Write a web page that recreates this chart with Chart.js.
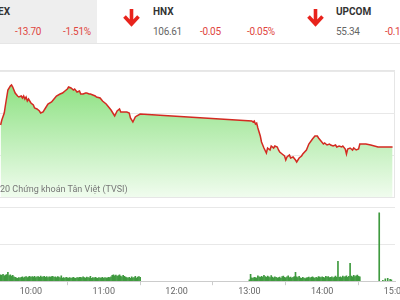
<!DOCTYPE html>
<html>
<head>
<meta charset="utf-8">
<script src="https://cdn.jsdelivr.net/npm/chart.js@4.4.0/dist/chart.umd.min.js"></script>
<style>
  body { margin: 0; width: 400px; height: 300px; overflow: hidden; background: #fff; position: relative; font-family: Roboto, sans-serif; }
  .abs { position: absolute; white-space: nowrap; }
  #hdrbox { left: 0; top: 0; width: 97px; height: 43px; background: #eeeeee; }
  #hdrline { left: 0; top: 43px; width: 400px; height: 1px; background: #e6e6e6; }
  .nm { font-size: 10px; font-weight: bold; color: #333; top: 6px; line-height: 12px; }
  .num { font-size: 10px; color: #666; top: 26px; line-height: 12px; letter-spacing: -0.3px; }
  .red { color: #e0463e; }
  .arrow { top: 9px; }
  #panel { left: -2px; top: 70px; width: 395px; height: 126px; border: 1px solid #e6e6e6; }
  #main { left: 0; top: 71px; }
  #vol { left: 0; top: 200px; }
  #copy { left: 0; top: 184px; font-size: 9px; line-height: 10px; color: #777; }
</style>
</head>
<body>
<div class="abs" id="hdrbox"></div>
<div class="abs" id="hdrline"></div>

<span class="abs nm" style="right:390px">VNINDEX</span>
<span class="abs num red" style="left:15px">-13.70</span>
<span class="abs num red" style="left:63px">-1.51%</span>

<svg class="abs arrow" style="left:122px" width="19" height="18" viewBox="0 0 19 18">
  <path d="M9.5 0 V15 M2.5 7.5 L9.5 15 L16.5 7.5" fill="none" stroke="#e8231c" stroke-width="3.6"/>
</svg>
<span class="abs nm" style="left:153px">HNX</span>
<span class="abs num" style="left:153px">106.61</span>
<span class="abs num red" style="left:200px">-0.05</span>
<span class="abs num red" style="left:247px">-0.05%</span>

<svg class="abs arrow" style="left:306px" width="19" height="18" viewBox="0 0 19 18">
  <path d="M9.5 0 V15 M2.5 7.5 L9.5 15 L16.5 7.5" fill="none" stroke="#e8231c" stroke-width="3.6"/>
</svg>
<span class="abs nm" style="left:336px">UPCOM</span>
<span class="abs num" style="left:336px">55.34</span>
<span class="abs num red" style="left:385px">-0.19</span>

<div class="abs" id="panel"></div>
<div class="abs" style="left:0;top:71px;width:395px;height:126px"><canvas id="main" width="395" height="126"></canvas></div>
<span class="abs" id="copy">20 Chứng khoán Tân Việt (TVSI)</span>
<div class="abs" style="left:0;top:200px;width:410px;height:98px"><canvas id="vol" width="410" height="98"></canvas></div>

<script>
// VN-Index intraday
const lineTimes = [
  '09:35','09:36','09:38','09:39','09:41','09:43','09:44','09:45','09:47','09:49',
  '09:50','09:52','09:53','09:54','09:55','09:56','09:57','09:58','10:00','10:02',
  '10:03','10:05','10:07','10:08','10:10','10:12','10:14','10:17','10:19','10:21',
  '10:24','10:26','10:28','10:30','10:31','10:33','10:35','10:36','10:38','10:40',
  '10:41','10:43','10:45','10:46','10:48','10:49','10:51','10:53','10:54','10:57',
  '10:59','11:02','11:04','11:06','11:08','11:09','11:11','11:13','11:14','11:17',
  '11:19','11:21','11:22','11:24','11:26','11:27','11:30',
  '13:02','13:03','13:04','13:05','13:06','13:07','13:09','13:10','13:12','13:14',
  '13:15','13:17','13:18','13:20','13:21','13:23','13:24','13:25','13:27','13:29',
  '13:30','13:31','13:33','13:34','13:36','13:38','13:39','13:41','13:43','13:44',
  '13:47','13:49','13:52','13:54','13:56','13:57','13:59','14:01','14:02','14:04',
  '14:06','14:07','14:09','14:11','14:12','14:14','14:16','14:17','14:19','14:20',
  '14:21','14:23','14:25','14:26','14:28','14:30','14:31','14:33','14:36','14:40',
  '14:43','14:46','14:52','14:58'
];
const lineValues = [
  895.8,896.3,897.0,897.8,899.3,899.7,899.8,899.6,899.0,898.7,
  898.6,898.7,898.5,898.7,898.4,898.6,898.2,898.4,898.0,897.8,
  897.5,897.4,897.2,897.0,897.1,897.5,897.9,898.1,898.4,898.7,
  898.9,899.0,899.2,899.4,899.6,899.5,899.3,899.4,899.1,899.2,
  898.9,898.9,899.0,899.0,898.9,898.9,898.8,898.7,898.6,898.5,
  898.2,897.9,897.6,897.3,896.9,896.7,897.2,897.4,897.1,897.1,
  897.1,897.0,896.5,896.1,896.6,896.7,896.9,
  896.2,896.1,896.2,895.9,896.0,895.5,894.7,894.1,893.5,893.0,
  893.5,893.3,893.7,893.5,893.7,893.6,893.3,893.1,892.9,892.7,
  892.3,892.6,892.8,892.5,892.6,892.3,892.1,892.5,892.7,892.9,
  893.3,893.9,894.4,894.7,894.7,894.5,894.2,893.9,894.0,893.8,
  893.9,893.8,893.7,893.8,893.6,893.7,893.6,893.7,893.4,892.9,
  893.4,893.5,893.3,893.5,893.3,893.4,893.9,893.9,893.9,893.8,
  893.7,893.6,893.6,893.6
];
const priceGrid = [888.6, 892.8, 897.0, 901.2];

// khối lượng theo phút
const volMorningStart = '09:35';
const volMorning = [
  2.6,2.4,2.8,2.2,2.5,2.7,3.6,2.3,2.6,2.1,2.4,1.8,1.6,
  1.4,1.2,1.5,1.3,1.6,1.8,1.4,1.7,1.9,1.5,1.8,2.0,1.6,1.9,1.7,2.0,1.5,1.8,1.9,1.6,
  2.1,1.7,1.8,2.0,1.6,1.9,1.5,1.8,1.7,1.9,2.0,1.6,1.8,1.5,1.9,1.7,1.4,2.2,1.3,1.5,
  1.2,1.6,1.4,1.3,1.5,1.2,1.4,1.6,1.3,1.2,1.5,1.4,1.6,
  1.6,1.4,1.8,1.5,1.3,1.7,1.5,1.4,2.0,1.2,1.5,1.3,1.6,1.4,1.2,1.5,1.3,1.4,1.6,1.2,
  1.5,1.3,1.4,1.6,1.5,1.8,
  2.4,2.6,2.2,2.5,2.0,2.3,2.6,2.1,1.8,2.4,2.0,1.7,
  1.5,1.3,1.6,1.2,1.8,1.4,1.5,2.0,1.3,1.7,1.9,1.6
];
const volAfternoonStart = '13:00';
const volAfternoon = [
  0.6,2.8,
  1.4,1.2,1.6,1.5,1.3,2.2,1.8,1.6,2.0,1.7,2.4,1.9,1.6,2.1,1.8,1.5,2.3,1.7,1.4,
  1.8,1.6,1.3,1.5,1.7,1.2,1.9,2.1,1.6,1.4,1.8,2.2,1.5,1.7,1.3,1.6,1.9,
  3.6,
  1.8,1.5,2.0,1.4,1.2,1.6,1.3,1.1,1.4,1.5,1.7,1.3,1.6,1.8,1.5,1.2,1.6,1.4,1.9,1.7,
  1.5,1.8,1.6,1.4,2.0,1.7,1.9,1.5,1.6,1.8,1.4,1.7,2.1,1.6,
  8.0,
  1.6,1.8,1.5,2.1,1.7,1.9,2.2,1.6,2.0,
  7.2,
  2.1,1.8,2.4,1.9,2.2,2.5,2.0,1.8
];
const volCloseTimes = ['14:47','14:50','14:52','14:54','14:56','14:57'];
const volClose = [27.6, 0.4, 1.0, 1.2, 0.8, 0.6];

const tickLabels = ['10:00','11:00','12:00','13:00','14:00','15:00'];
const axisStart = '09:34:30';
const axisEnd = '15:00';

function toMin(t) {
  const p = t.split(':').map(Number);
  return (p[0] - 9) * 60 + p[1] + (p[2] || 0) / 60;
}

const linePts = lineTimes.map((t, i) => ({ x: toMin(t), y: lineValues[i] }));

const volPts = [];
volMorning.forEach((v, i) => volPts.push({ x: toMin(volMorningStart) + i, y: v }));
volAfternoon.forEach((v, i) => volPts.push({ x: toMin(volAfternoonStart) + i, y: v }));
volCloseTimes.forEach((t, i) => volPts.push({ x: toMin(t), y: volClose[i] }));

const xMin = toMin(axisStart), xMax = toMin(axisEnd);

new Chart(document.getElementById('main'), {
  type: 'line',
  data: {
    datasets: [{
      data: linePts,
      borderColor: '#d42a22',
      borderWidth: 1.5,
      pointRadius: 0,
      tension: 0,
      fill: 'start',
      backgroundColor: (c) => {
        const a = c.chart.chartArea;
        if (!a) return 'rgba(140,225,130,0.6)';
        const g = c.chart.ctx.createLinearGradient(0, a.top, 0, a.bottom);
        g.addColorStop(0, 'rgb(130,222,118)');
        g.addColorStop(1, 'rgb(240,252,238)');
        return g;
      }
    }]
  },
  options: {
    responsive: false,
    animation: false,
    layout: { padding: 0, autoPadding: false },
    plugins: { legend: { display: false }, tooltip: { enabled: false } },
    scales: {
      x: { type: 'linear', min: xMin, max: xMax, display: false },
      y: {
        min: priceGrid[0], max: priceGrid[priceGrid.length - 1],
        afterBuildTicks: (s) => { s.ticks = priceGrid.map(v => ({ value: v })); },
        ticks: { display: false },
        border: { display: false },
        grid: { color: '#e8e8e8', drawTicks: false }
      }
    }
  }
});

new Chart(document.getElementById('vol'), {
  type: 'bar',
  data: {
    datasets: [{
      data: volPts,
      backgroundColor: '#3f9a3f',
      barThickness: 1
    }]
  },
  options: {
    responsive: false,
    animation: false,
    layout: { padding: { top: 7, right: 15, left: 0, bottom: 0 }, autoPadding: false },
    plugins: { legend: { display: false }, tooltip: { enabled: false } },
    scales: {
      x: {
        type: 'linear', min: xMin, max: xMax, offset: false,
        afterBuildTicks: (s) => { s.ticks = tickLabels.map(t => ({ value: toMin(t) })); },
        ticks: {
          autoSkip: false, maxRotation: 0, padding: 1,
          color: '#666', font: { family: 'Roboto', size: 9 },
          callback: (v) => tickLabels.find(t => toMin(t) === v) || ''
        },
        grid: { drawOnChartArea: false, drawTicks: true, tickLength: 4, color: '#cccccc' },
        border: { display: true, color: '#cccccc' }
      },
      y: {
        min: 0, max: 30,
        ticks: { display: false, stepSize: 15 },
        border: { display: false },
        grid: { color: '#e8e8e8', drawTicks: false }
      }
    }
  }
});
</script>
</body>
</html>
